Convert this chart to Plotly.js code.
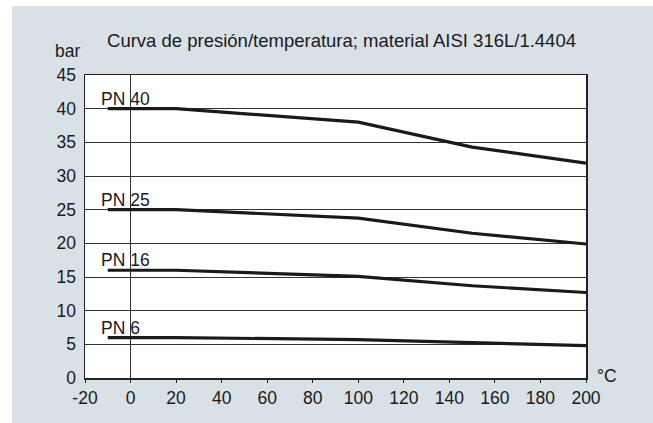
<!DOCTYPE html>
<html>
<head>
<meta charset="utf-8">
<script src="https://cdn.plot.ly/plotly-3.0.1.min.js"></script>
<style>
html,body{margin:0;padding:0;background:#ffffff;width:653px;height:423px;overflow:hidden;}
#chart{position:absolute;left:12px;top:6px;width:641px;height:417px;}
</style>
</head>
<body>
<div id="chart"></div>
<script>
const temps = [-10, 20, 100, 150, 200];
const pn40 = [40, 40, 38.0, 34.3, 31.9];
const pn25 = [25, 25, 23.75, 21.5, 19.9];
const pn16 = [16, 16, 15.1, 13.7, 12.7];
const pn6 = [6, 6, 5.7, 5.2, 4.8];
const seriesNames = ["PN 40", "PN 25", "PN 16", "PN 6"];
const seriesValues = [pn40, pn25, pn16, pn6];
const xTicks = [-20, 0, 20, 40, 60, 80, 100, 120, 140, 160, 180, 200];
const yTicks = [0, 5, 10, 15, 20, 25, 30, 35, 40, 45];
const titleText = "Curva de presión/temperatura; material AISI 316L/1.4404";
const yUnit = "bar";
const xUnit = "°C";

const FONT = "Liberation Sans, Arial, sans-serif";
const traces = seriesValues.map((vals, i) => ({
  x: temps, y: vals, type: "scatter", mode: "lines",
  name: seriesNames[i],
  line: {color: "#1a1a1a", width: 3.2},
  hoverinfo: "skip"
}));

const annotations = seriesValues.map((vals, i) => ({
  x: -13.8, y: vals[0], xref: "x", yref: "y",
  text: seriesNames[i], showarrow: false,
  xanchor: "left", yanchor: "middle", yshift: 10,
  font: {family: FONT, size: 17.5, color: "#1a1a1a"}
}));
annotations.push({
  xref: "paper", yref: "paper", x: -0.035, y: 1.078,
  text: yUnit, showarrow: false, xanchor: "center", yanchor: "middle",
  font: {family: FONT, size: 17.5, color: "#1a1a1a"}
});
annotations.push({
  xref: "paper", yref: "paper", x: 1.042, y: 0.005,
  text: xUnit, showarrow: false, xanchor: "center", yanchor: "middle",
  font: {family: FONT, size: 17.5, color: "#1a1a1a"}
});

const layout = {
  width: 641, height: 417,
  margin: {l: 73, r: 67, t: 69, b: 45, pad: 0},
  paper_bgcolor: "#d8e1e6",
  plot_bgcolor: "#ffffff",
  showlegend: false,
  title: {
    text: titleText, xref: "paper", yref: "paper",
    x: 0.512, y: 1.118, xanchor: "center", yanchor: "middle",
    font: {family: FONT, size: 18.5, color: "#1a1a1a"}
  },
  xaxis: {
    range: [-20, 200], tickvals: xTicks, ticktext: xTicks.map(String),
    showgrid: false, zeroline: true, zerolinecolor: "#333333", zerolinewidth: 1,
    showline: true, mirror: true, linecolor: "#222222", linewidth: 1.5,
    ticks: "outside", ticklen: 3, tickcolor: "#222222", tickwidth: 1,
    tickfont: {family: FONT, size: 17.5, color: "#1a1a1a"},
    fixedrange: true
  },
  yaxis: {
    range: [0, 45], tickvals: yTicks, ticktext: yTicks.map(String),
    showgrid: true, gridcolor: "#333333", gridwidth: 1,
    zeroline: false,
    showline: true, mirror: true, linecolor: "#222222", linewidth: 1.5,
    ticks: "", ticklabelstandoff: 4,
    tickfont: {family: FONT, size: 17.5, color: "#1a1a1a"},
    fixedrange: true
  },
  annotations: annotations
};

Plotly.newPlot("chart", traces, layout, {displayModeBar: false, staticPlot: true});
</script>
</body>
</html>
